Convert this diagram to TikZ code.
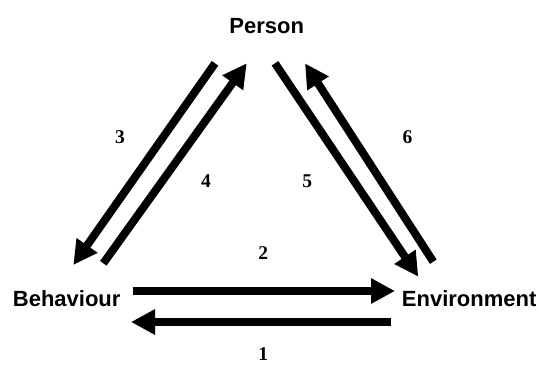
\documentclass[tikz,border=0pt]{standalone}
\usepackage{fontspec}
\setmainfont{Liberation Serif}
\setsansfont{Liberation Sans}
\usetikzlibrary{arrows.meta}
\begin{document}
\begin{tikzpicture}[x=1pt,y=-1pt,
  lbl/.style={font=\sffamily\bfseries\fontsize{22}{26}\selectfont, inner sep=0pt},
  num/.style={font=\rmfamily\bfseries\fontsize{19.5}{22}\selectfont, inner sep=0pt},
  arr/.style={line width=8pt, -{Triangle[length=24pt,width=24pt]}}]
\useasboundingbox (0,0) rectangle (539,365);
% labels
\node[lbl, anchor=base] (person) at (266.7,33) {Person};
\node[lbl, anchor=base west] (behav) at (12.7,306.7) {Behaviour};
\node[lbl, anchor=base west] (env) at (401.7,306.7) {Environment};
% numbers
\node[num] (n1) at (263.3,354) {1};
\node[num] (n2) at (263.3,253) {2};
\node[num] (n3) at (120,136.7) {3};
\node[num] (n4) at (205.9,181) {4};
\node[num] (n5) at (307.3,181) {5};
\node[num] (n6) at (407.6,137) {6};
% arrow end points
\coordinate (a2s) at (133,291);
\coordinate (a2e) at (395,291);
\coordinate (a1s) at (391,322);
\coordinate (a1e) at (131,322);
\coordinate (a3s) at (215,63.3);
\coordinate (a3e) at (73.3,265);
\coordinate (a4s) at (103.3,263.3);
\coordinate (a4e) at (246.7,63.3);
\coordinate (a5s) at (275,63.3);
\coordinate (a5e) at (418.3,276.7);
\coordinate (a6s) at (433.3,261.7);
\coordinate (a6e) at (305,63.3);
% arrows
\draw[arr] (a1s) -- (a1e);
\draw[arr] (a2s) -- (a2e);
\draw[arr] (a3s) -- (a3e);
\draw[arr] (a4s) -- (a4e);
\draw[arr] (a5s) -- (a5e);
\draw[arr] (a6s) -- (a6e);
\end{tikzpicture}
\end{document}
